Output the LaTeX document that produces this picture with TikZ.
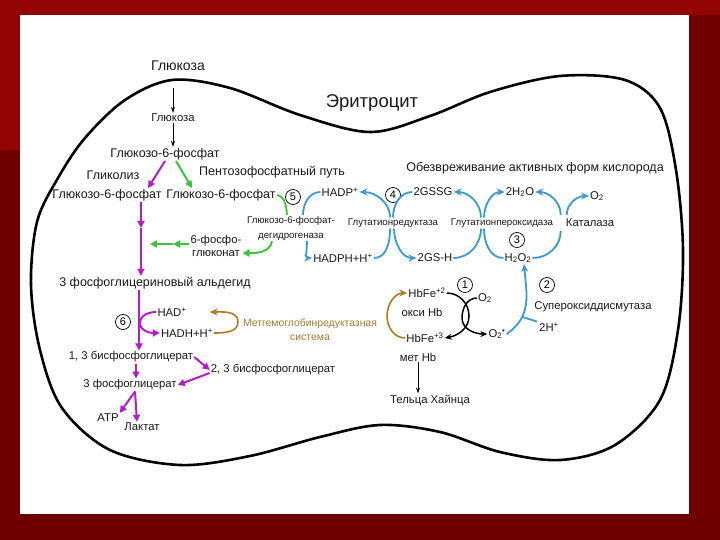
\documentclass[tikz,border=0pt]{standalone}
\usepackage{fontspec}
\setmainfont{Liberation Sans}
\usetikzlibrary{arrows.meta,calc}
\definecolor{bgred}{HTML}{700000}
\definecolor{bgredb}{HTML}{940606}
\definecolor{mag}{HTML}{B41EC8}
\definecolor{grn}{HTML}{3CC43C}
\definecolor{blu}{HTML}{3A9AD2}
\definecolor{brn}{HTML}{B07A22}
\definecolor{brntxt}{HTML}{A27C34}
\definecolor{txtc}{HTML}{1A1A1A}
\begin{document}
\begin{tikzpicture}[x=1pt,y=-1pt,
  lbl/.style={inner sep=1pt, text=txtc},
  fa/.style={font=\fontsize{14}{16}\selectfont},
  fe/.style={font=\fontsize{18.5}{20}\selectfont},
  fm/.style={font=\fontsize{12.5}{14}\selectfont},
  fs/.style={font=\fontsize{11.3}{13}\selectfont},
  fsb/.style={font=\fontsize{10.4}{14}\selectfont},
  fx/.style={font=\fontsize{9.7}{15}\selectfont},
  numc/.style={circle, draw, line width=0.7pt, inner sep=0pt, minimum size=15pt, font=\fontsize{11}{12}\selectfont},
  magarr/.style={draw=mag, line width=2pt, -{Triangle[length=7pt,width=7pt]}},
  magln/.style={draw=mag, line width=2pt},
  grnarr/.style={draw=grn, line width=2pt, -{Triangle[length=7pt,width=7pt]}},
  grnln/.style={draw=grn, line width=1.8pt},
  bluarr/.style={draw=blu, line width=1.8pt, -{Stealth[length=8pt,width=7pt]}},
  bluln/.style={draw=blu, line width=1.8pt},
  blkarr/.style={draw=black, line width=1.5pt, -{Stealth[length=7pt,width=6pt]}},
  thinarr/.style={draw=black, line width=0.9pt, -{Stealth[length=6pt,width=4pt]}},
  brnarr/.style={draw=brn, line width=1.6pt, -{Stealth[length=8pt,width=7pt]}}
]
\useasboundingbox (0,0) rectangle (720,540);
\fill[bgred] (0,0) rectangle (720,540);
\fill[bgredb] (0,0) rectangle (720,15);
\fill[bgredb] (0,0) rectangle (20,150);
\fill[white] (20,15) rectangle (689,514);

% cell outline
\draw[line width=2.6pt, line join=round] plot[smooth cycle, tension=0.55] coordinates {
 (37,222) (58,178) (85,138) (125,100) (172,80) (230,88) (300,115) (370,132)
 (430,116) (490,92) (560,76) (625,80) (660,108) (676,170) (683,250) (678,330)
 (660,400) (615,445) (560,460) (500,452) (440,432) (380,425) (320,437)
 (250,456) (180,465) (110,450) (62,408) (40,350) (31,285)};

% nodes
\node[lbl,fa] (glu0) at (178,66) {Глюкоза};
\node[lbl,fe] (eri) at (372,103) {Эритроцит};
\node[lbl,fs] (glu1) at (173,118) {Глюкоза};
\node[lbl,fm] (g6p) at (165,154) {Глюкозо-6-фосфат};
\node[lbl,fm] (glyc) at (113,175) {Гликолиз};
\node[lbl,fm] (ppp) at (272,172) {Пентозофосфатный путь};
\node[lbl,fm] (g6pL) at (107,195) {Глюкозо-6-фосфат};
\node[lbl,fm] (g6pR) at (221,195) {Глюкозо-6-фосфат};
\node[numc] (c5) at (293,197) {5};
\node[lbl,fs] (hadp) at (340,192) {HADP\textsuperscript{+}};
\node[numc] (c4) at (393,195) {4};
\node[lbl,fs] (gssg) at (433,192) {2GSSG};
\node[lbl,fs] (h2o) at (520,192) {2H\textsubscript{2}O};
\node[lbl,fs] (o2) at (597,196) {O\textsubscript{2}};
\node[lbl,fm] (obez) at (535,168) {Обезвреживание активных форм кислорода};
\node[lbl,fx,align=center] (g6pdh) at (291,228) {Глюкозо-6-фосфат-\\дегидрогеназа};
\node[lbl,fx] (gr) at (393,223) {Глутатионредуктаза};
\node[lbl,fx] (gpx) at (502,223) {Глутатионпероксидаза};
\node[lbl,fs] (cat) at (590,223) {Каталаза};
\node[numc] (c3) at (517,240) {3};
\node[lbl,fs] (h2o2) at (518,258) {H\textsubscript{2}O\textsubscript{2}};
\node[lbl,fs] (gsh) at (435,258) {2GS-H};
\node[lbl,fs] (nadph) at (343,258) {HADPH+H\textsuperscript{+}};
\node[lbl,fs,align=center,font=\fontsize{11.3}{13}\selectfont] (pg6) at (216,246) {6-фосфо-\\глюконат};
\node[lbl,fm] (ald) at (155,283) {3 фосфоглицериновый альдегид};
\node[numc] (c6) at (123,322) {6};
\node[lbl,fs] (nad) at (172,312) {HAD\textsuperscript{+}};
\node[lbl,fs] (nadh) at (187,333) {HADH+H\textsuperscript{+}};
\node[lbl,fsb,text=brntxt,align=center] (met) at (310,330) {Метгемоглобинредуктазная\\система};
\node[lbl,fs] (hb2) at (427,293) {HbFe\textsuperscript{+2}};
\node[lbl,fs] (oxy) at (422,312) {окси Hb};
\node[lbl,fs] (hb3) at (425,338) {HbFe\textsuperscript{+3}};
\node[lbl,fs] (methb) at (418,357) {мет Hb};
\node[lbl,fs] (heinz) at (430,400) {Тельца Хайнца};
\node[numc] (c1) at (465,285) {1};
\node[lbl,fs] (o2b) at (485,298) {O\textsubscript{2}};
\node[lbl,fs] (o2m) at (497,334) {O\textsubscript{2}\textsuperscript{•}};
\node[numc] (c2) at (547,285) {2};
\node[lbl,fs] (sod) at (593,307) {Супероксиддисмутаза};
\node[lbl,fs] (hplus) at (549,327) {2H\textsuperscript{+}};
\node[lbl,fs] (bpg13) at (131,357) {1, 3 бисфосфоглицерат};
\node[lbl,fs] (bpg23) at (273,370) {2, 3 бисфосфоглицерат};
\node[lbl,fs] (pg3) at (130,385) {3 фосфоглицерат};
\node[lbl,fs] (atp) at (108,418) {ATP};
\node[lbl,fs] (lac) at (142,427) {Лактат};

% helper coordinates
\coordinate (m1) at (173,88);
\coordinate (v1) at (141,228);
\coordinate (v2) at (139,297);
\coordinate (mv) at (140,323);
\coordinate (ga) at (173,244);
\coordinate (gb) at (150,244);
\coordinate (bx) at (469,316);
\coordinate (bx2) at (462,318);
\coordinate (brx) at (387,316);
\coordinate (brx2) at (238,322);

% black straight arrows
\draw[thinarr] (m1) -- (m1 |- glu1.north);
\draw[thinarr] (glu1.south) -- (glu1.south |- g6p.north);
\draw[thinarr] (methb.south) -- (methb.south |- heinz.north);

% glycolysis / PPP split
\draw[magarr] ([xshift=0pt]g6p.south) -- ([xshift=41pt]g6pL.north);
\draw[grnarr] ([xshift=11pt]g6p.south) -- ([xshift=-29pt]g6pR.north);

% magenta main line
\draw[magarr] (g6pL.south -| v1) -- (v1);
\draw[magarr] (v1) -- (v1 |- ald.north);
\draw[magarr] (ald.south -| v2) -- (v2 |- bpg13.north);
\draw[magln] (nad.west) to[out=180,in=90] (mv);
\draw[magarr] (mv) to[out=-90,in=180] (nadh.west);
\draw[magarr] (bpg13.east) -- (bpg23.west);
\draw[magarr] ([yshift=-3pt]bpg23.west) -- (pg3.east);
\draw[magarr] ([xshift=5pt]bpg13.south) -- ([xshift=6pt]pg3.north);
\draw[magarr] ([xshift=5pt]pg3.south) -- (atp.north east);
\draw[magarr] ([xshift=5pt]pg3.south) -- ([xshift=-5pt]lac.north);

% green PPP
\draw[grnln] (g6pR.east) to[out=-10,in=95] ([xshift=-4pt]g6pdh.north);
\draw[grnarr] ([xshift=-19pt]g6pdh.south) to[out=-100,in=0] ([yshift=-7pt]pg6.east);
\draw[grnarr] (pg6.west |- ga) -- (ga);
\draw[grnarr] (ga) -- (gb);

% blue cycles
\draw[bluln] (hadp.west) to[out=180,in=90] ([xshift=12pt]g6pdh.north);
\draw[bluarr] ([xshift=16pt]g6pdh.south) to[out=-90,in=180] (nadph.west);
\draw[bluarr] ([xshift=-3pt]gr.north) to[out=90,in=0] (hadp.east);
\draw[bluln] (gssg.west) to[out=180,in=90] ([xshift=0pt]gr.north);
\draw[bluln] (nadph.east) to[out=0,in=-90] ([xshift=-3pt]gr.south);
\draw[bluarr] ([xshift=1pt]gr.south) to[out=-90,in=180] (gsh.west);
\draw[bluarr] ([xshift=-21pt]gpx.north) to[out=90,in=0] (gssg.east);
\draw[bluarr] ([xshift=-18pt]gpx.north) to[out=90,in=180] (h2o.west);
\draw[bluln] (gsh.east) to[out=0,in=-90] ([xshift=-21pt]gpx.south);
\draw[bluln] (h2o2.west) to[out=180,in=-90] ([xshift=-18pt]gpx.south);
\draw[bluln] (h2o2.east) to[out=0,in=-90] ([xshift=-4pt,yshift=-3pt]cat.south west);
\draw[bluarr] ([xshift=-4pt,yshift=3pt]cat.north west) to[out=90,in=0] (h2o.east);
\draw[bluarr] ([xshift=2pt,yshift=3pt]cat.north west) to[out=90,in=180] (o2.west);
\draw[bluarr] (o2m.east) to[out=35,in=-85,looseness=1.1] coordinate[pos=0.3] (sodj) ([xshift=6pt]h2o2.south);
\draw[bluln] ([xshift=-1pt]hplus.north west) -- (sodj);

% black hemoglobin arcs
\draw[blkarr] (hb2.east) to[out=0,in=90] (bx) to[out=-90,in=10] (hb3.east);
\draw[blkarr] (o2b.west) to[out=180,in=90] (bx2) to[out=-90,in=180] (o2m.west);

% brown methemoglobin reductase
\draw[brnarr] (hb3.west) to[out=180,in=-90] (brx) to[out=90,in=180] (hb2.west);
\draw[brnarr] (nadh.east) to[out=0,in=-90] (brx2) to[out=90,in=0] ([xshift=22pt]nad.east);
\end{tikzpicture}
\end{document}
